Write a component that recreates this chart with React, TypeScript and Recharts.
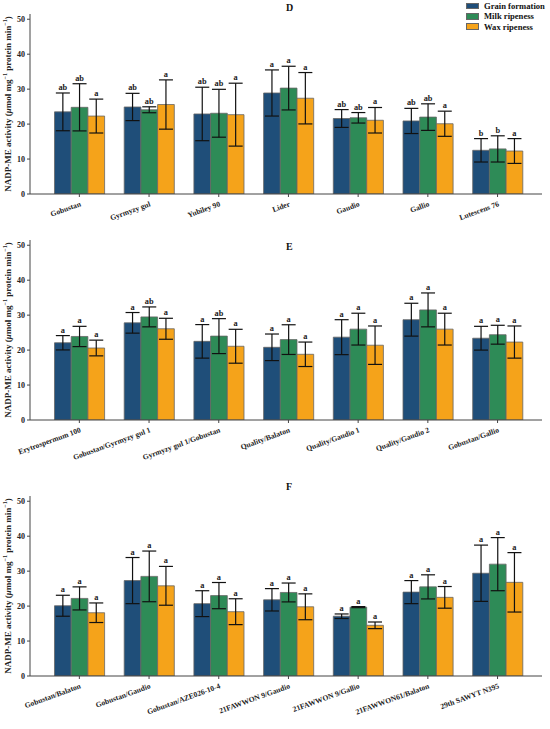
import { BarChart, Bar, XAxis, YAxis, ErrorBar, LabelList } from 'recharts';

// panel D: cultivars
const catsD = ['Gobustan', 'Gyrmyzy gul', 'Yubiley 90', 'Lider', 'Gaudio', 'Gallio', 'Lutescens 76'];
const grainD = [23.5, 24.9, 22.9, 28.9, 21.6, 20.9, 12.5];
const grainSdD = [5.4, 3.9, 7.65, 6.6, 2.55, 3.6, 3.35];
const milkD = [24.8, 24.1, 23.1, 30.3, 21.8, 22.0, 12.9];
const milkSdD = [6.75, 0.85, 6.85, 6.25, 1.5, 3.8, 3.75];
const waxD = [22.3, 25.6, 22.7, 27.4, 21.1, 20.1, 12.3];
const waxSdD = [4.85, 7.05, 9.0, 7.35, 3.65, 3.6, 3.55];
const grainLetD = ['ab', 'ab', 'ab', 'a', 'ab', 'ab', 'b'];
const milkLetD = ['ab', 'ab', 'ab', 'a', 'ab', 'ab', 'b'];
const waxLetD = ['a', 'a', 'a', 'a', 'a', 'a', 'a'];

// panel E
const catsE = ['Erytrospermum 100', 'Gobustan/Gyrmyzy gul 1', 'Gyrmyzy gul 1/Gobustan', 'Quality/Balaton', 'Quality/Gaudio 1', 'Quality/Gaudio 2', 'Gobustan/Gallio'];
const grainE = [22.1, 27.8, 22.5, 20.8, 23.7, 28.7, 23.4];
const grainSdE = [2.05, 2.95, 4.8, 3.8, 5.0, 4.7, 3.4];
const milkE = [23.9, 29.5, 24.0, 23.0, 26.0, 31.5, 24.4];
const milkSdE = [2.9, 2.85, 5.0, 4.25, 4.55, 4.85, 2.7];
const waxE = [20.6, 26.1, 21.1, 18.8, 21.4, 26.0, 22.3];
const waxSdE = [2.25, 3.0, 4.85, 3.5, 5.5, 4.55, 4.6];
const grainLetE = ['a', 'a', 'a', 'a', 'a', 'a', 'a'];
const milkLetE = ['a', 'ab', 'ab', 'a', 'a', 'a', 'a'];
const waxLetE = ['a', 'a', 'a', 'a', 'a', 'a', 'a'];

// panel F
const catsF = ['Gobustan/Balaton', 'Gobustan/Gaudio', 'Gobustan/AZE026-10-4', '21FAWWON 9/Gaudio', '21FAWWON 9/Gallio', '21FAWWON61/Balaton', '29th SAWYT N395'];
const grainF = [20.1, 27.3, 20.7, 21.8, 17.1, 24.0, 29.4];
const grainSdF = [3.0, 6.6, 3.7, 3.2, 0.65, 3.3, 8.05];
const milkF = [22.2, 28.5, 23.0, 23.9, 19.7, 25.5, 32.0];
const milkSdF = [3.3, 7.25, 3.75, 2.7, 0.15, 3.45, 7.6];
const waxF = [18.1, 25.8, 18.4, 19.8, 14.5, 22.5, 26.8];
const waxSdF = [2.8, 5.55, 3.7, 3.7, 0.95, 3.1, 8.5];
const allA = ['a', 'a', 'a', 'a', 'a', 'a', 'a'];

const yTicks = [0, 10, 20, 30, 40, 50];
const seriesNames = ['Grain formation', 'Milk ripeness', 'Wax ripeness'];
const COLORS = ['#1f4e79', '#2e8b57', '#f5a31a'];
const FONT = '"Liberation Serif", "DejaVu Serif", serif';

function buildRows(cats: string[], g: number[], gs: number[], m: number[], ms: number[], w: number[], ws: number[]) {
  return cats.map((name, i) => ({
    name,
    gf: g[i], gfSd: gs[i],
    mr: m[i], mrSd: ms[i],
    wr: w[i], wrSd: ws[i],
  }));
}

const letterLabel = (vals: number[], sds: number[], letters: string[]) => (p: any) => {
  const { x, y, width, height, index } = p;
  const v = vals[index];
  const ppu = Number(height) / v;
  const top = Number(y) - sds[index] * ppu;
  return (
    <text x={Number(x) + Number(width) / 2} y={top - 3} textAnchor="middle" fill="#1a1a1a"
      style={{ fontFamily: FONT, fontWeight: 700, fontSize: 8.3, fill: '#1a1a1a' }}>
      {letters[index]}
    </text>
  );
};

const CatTick = (props: any) => {
  const { x, y, payload } = props;
  return (
    <g transform={`translate(${x + 2},${y + 7})`}>
      <text x={0} y={0} textAnchor="end" transform="rotate(-20)" fill="#222"
        style={{ fontFamily: FONT, fontWeight: 700, fontSize: 7.6 }}>
        {payload.value}
      </text>
    </g>
  );
};

const YLabel = (props: any) => {
  const vb = props.viewBox || {};
  const cy = vb.y + vb.height / 2;
  return (
    <text x={8} y={cy} transform={`rotate(-90, 8, ${cy})`} textAnchor="middle" dominantBaseline="central" fill="#222"
      style={{ fontFamily: FONT, fontWeight: 700, fontSize: 9 }}>
      NADP-ME activity (<tspan fontStyle="italic">μ</tspan>mol mg<tspan dy={-3} fontSize={6}>−1</tspan>
      <tspan dy={3}> protein min</tspan><tspan dy={-3} fontSize={6}>−1</tspan><tspan dy={3}>)</tspan>
    </text>
  );
};

interface PanelProps {
  rows: any[];
  letters: string[][];
}

function Panel({ rows, letters }: PanelProps) {
  const keys = ['gf', 'mr', 'wr'];
  return (
    <BarChart width={550} height={254} data={rows} barGap={0} barSize={16.7}
      margin={{ top: 14, right: 8, bottom: 0, left: 8 }}>
      <XAxis dataKey="name" interval={0} height={60} tick={<CatTick />} tickSize={3}
        padding={{ left: 14.5, right: 9.6 }} axisLine={{ stroke: '#444' }} tickLine={{ stroke: '#444' }} />
      <YAxis domain={[0, 51.5]} ticks={yTicks} width={22} tickSize={3} axisLine={{ stroke: '#444' }}
        tickLine={{ stroke: '#444' }} allowDataOverflow
        tick={{ fontFamily: FONT, fontWeight: 700, fontSize: 8, fill: '#222' }}
        label={{ content: <YLabel /> }} />
      {keys.map((k, si) => {
        const vals = rows.map(r => r[k]);
        const sds = rows.map(r => r[k + 'Sd']);
        return (
          <Bar key={k} dataKey={k} name={seriesNames[si]} fill={COLORS[si]} stroke="#666" strokeWidth={0.8}
            isAnimationActive={false}>
            <ErrorBar dataKey={k + 'Sd'} width={7} stroke="#111" strokeWidth={1.2} direction="y" />
            <LabelList dataKey={k} content={letterLabel(vals, sds, letters[si])} />
          </Bar>
        );
      })}
    </BarChart>
  );
}

const rowsD = buildRows(catsD, grainD, grainSdD, milkD, milkSdD, waxD, waxSdD);
const rowsE = buildRows(catsE, grainE, grainSdE, milkE, milkSdE, waxE, waxSdE);
const rowsF = buildRows(catsF, grainF, grainSdF, milkF, milkSdF, waxF, waxSdF);

const titleStyle: React.CSSProperties = {
  position: 'absolute', left: 286, fontFamily: FONT, fontWeight: 700, fontSize: 10, color: '#111', lineHeight: '10px',
};

export default function App() {
  return (
    <div style={{ position: 'absolute', left: 0, top: 0, width: 550, height: 729, overflow: 'hidden', background: '#fff' }}>
      <div style={{ position: 'absolute', left: 0, top: 0 }}>
        <Panel rows={rowsD} letters={[grainLetD, milkLetD, waxLetD]} />
      </div>
      <div style={{ position: 'absolute', left: 0, top: 226 }}>
        <Panel rows={rowsE} letters={[grainLetE, milkLetE, waxLetE]} />
      </div>
      <div style={{ position: 'absolute', left: 0, top: 482 }}>
        <Panel rows={rowsF} letters={[allA, allA, allA]} />
      </div>
      <div style={{ ...titleStyle, top: 3 }}>D</div>
      <div style={{ ...titleStyle, top: 242 }}>E</div>
      <div style={{ ...titleStyle, top: 482 }}>F</div>
      <div style={{ position: 'absolute', left: 466, top: 1 }}>
        {seriesNames.map((n, i) => (
          <div key={n} style={{ display: 'flex', alignItems: 'center', height: 10.3 }}>
            <div style={{ width: 11, height: 4.5, background: COLORS[i], border: '0.6px solid #666', marginRight: 5 }} />
            <span style={{ fontFamily: FONT, fontWeight: 700, fontSize: 8.6, color: '#111', whiteSpace: 'nowrap' }}>{n}</span>
          </div>
        ))}
      </div>
    </div>
  );
}
